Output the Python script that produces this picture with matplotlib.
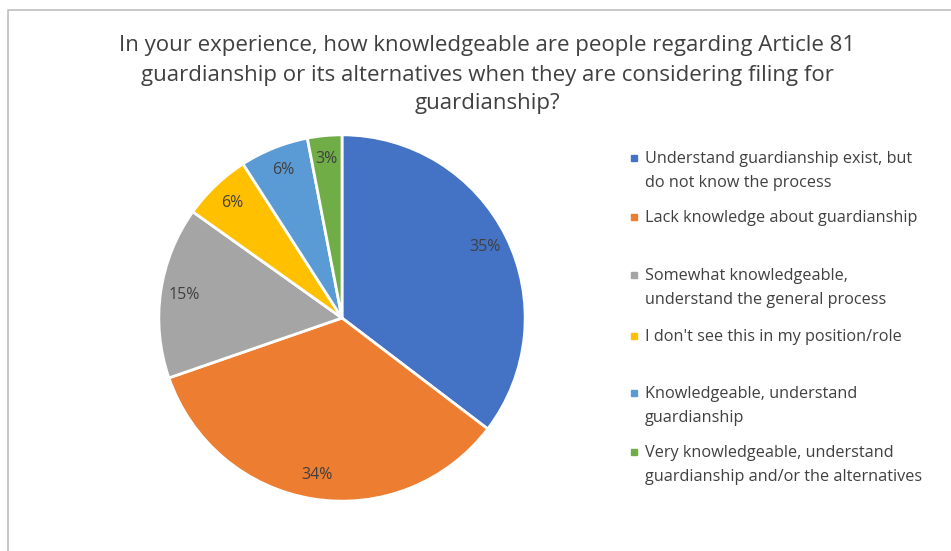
import matplotlib.pyplot as plt
from matplotlib.patches import Rectangle

plt.rcParams['font.family'] = ['Open Sans', 'DejaVu Sans']

title = ("In your experience, how knowledgeable are people regarding Article 81\n"
         "guardianship or its alternatives when they are considering filing for\n"
         "guardianship?")

categories = [
    "Understand guardianship exist, but\ndo not know the process",
    "Lack knowledge about guardianship",
    "Somewhat knowledgeable,\nunderstand the general process",
    "I don't see this in my position/role",
    "Knowledgeable, understand\nguardianship",
    "Very knowledgeable, understand\nguardianship and/or the alternatives",
]
percents = [35, 34, 15, 6, 6, 3]
colors = ["#4472C4", "#ED7D31", "#A5A5A5", "#FFC000", "#5B9BD5", "#70AD47"]
text_color = "#404040"

W, H = 951, 551
fig = plt.figure(figsize=(W / 100, H / 100), dpi=100)

# pie centred at (342, 318) px with radius 185 px
cx, cy, r = 342, 318, 185
ax = fig.add_axes([(cx - r) / W, (H - cy - r) / H, 2 * r / W, 2 * r / H])
wedges, texts = ax.pie(percents, colors=colors, startangle=90, counterclock=False,
                       labels=[f"{p}%" for p in percents], labeldistance=0.87,
                       wedgeprops=dict(edgecolor="white", linewidth=2))
for t in texts:
    t.set_ha("center")
    t.set_va("center")
    t.set_fontsize(11.5)
    t.set_color(text_color)
ax.set_xlim(-1.01, 1.01)
ax.set_ylim(-1.01, 1.01)
ax.set_aspect("equal")

# overlay in pixel coordinates for title, legend and frame
ov = fig.add_axes([0, 0, 1, 1], facecolor="none")
ov.set_xlim(0, W)
ov.set_ylim(H, 0)
ov.axis("off")

ov.plot([8, 8, W], [H, 10, 10], color="#bfbfbf", lw=1.2)

ov.text(487, 75, title, ha="center", va="center", fontsize=16,
        color=text_color, linespacing=1.5)

legend_y = [158, 217, 275, 336, 393, 452]
for y, label, c in zip(legend_y, categories, colors):
    ov.add_patch(Rectangle((631, y - 3), 6, 6, color=c))
    ov.text(645, y - 7, label, ha="left", va="top", fontsize=11.7,
            color=text_color, linespacing=1.65)

fig.savefig("out.png", dpi=100)
